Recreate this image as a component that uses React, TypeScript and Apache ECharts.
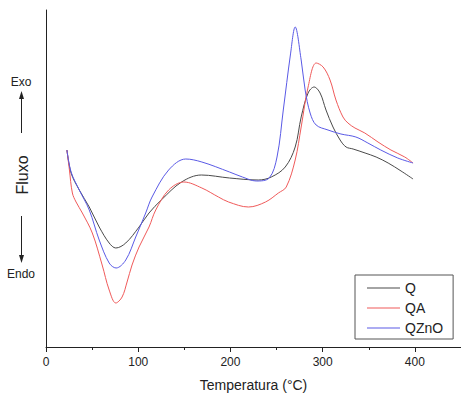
import React, { useEffect, useRef } from "react";
import * as echarts from "echarts";

const seriesNames = ["Q", "QA", "QZnO"];

const qX = [22.7, 27.2, 36.1, 46.9, 57.7, 68.5, 75.7, 86.5, 100.9, 111.7, 125, 147, 168.5, 199, 230.2, 244.3, 259.4, 270.2, 276.7, 284.2, 290.7, 297.2, 303.6, 311.2, 318.9, 325.4, 333, 346, 358, 371, 385, 398];
const qY = [197, 174, 157, 140, 120, 104, 99, 104, 120, 134, 147, 165, 172, 169, 167, 170, 180, 200, 230, 254, 260, 254, 237, 220, 207, 200, 198, 194, 190, 184, 176, 168];

const qaX = [22.7, 25.4, 28.6, 32.6, 39.4, 50.2, 60.9, 68.5, 75.7, 82.5, 87.9, 93.3, 100.9, 111.7, 119, 133, 149.5, 169, 187, 198, 219.5, 238, 252, 260.5, 270.2, 276.7, 284.2, 293, 300.5, 308, 314.4, 322, 327.4, 335, 345.7, 360, 374, 389, 398];
const qaY = [197, 177, 154, 145, 134, 114, 82, 57, 44, 50, 65, 82, 100, 120, 137, 157, 165, 159, 150, 145, 140, 145, 154, 160, 187, 220, 260, 284, 280, 267, 247, 230, 224, 219, 214, 205, 197, 190, 184];

const qznoX = [22.7, 27.2, 36.1, 46.9, 57.7, 68.5, 76, 86.5, 97.3, 108.1, 115, 133, 151.6, 169, 199, 213, 228, 242, 250.5, 257.3, 265, 270.2, 276.7, 281, 286.4, 292.9, 305.8, 319.8, 336, 349, 363, 381.4, 398];
const qznoY = [197, 175, 157, 137, 107, 84, 79, 87, 110, 134, 150, 177, 188, 185, 175, 170, 166, 169, 190, 237, 292, 320, 287, 257, 234, 222, 217, 213, 210, 204, 197, 189, 184];

const xTicks = { min: 0, max: 450, interval: 100 };
const colors = ["#4a4a4a", "#f05a5a", "#5a5ae6"];

const zip = (xs: number[], ys: number[]) => xs.map((x, i) => [x, ys[i]]);

export default function App() {
  const ref = useRef<HTMLDivElement>(null);
  useEffect(() => {
    if (!ref.current) return;
    const chart = echarts.init(ref.current, null, { renderer: "svg" });
    const font = "Liberation Sans, Arial, sans-serif";
    const datasets = [zip(qX, qY), zip(qaX, qaY), zip(qznoX, qznoY)];
    chart.setOption({
      animation: false,
      textStyle: { fontFamily: font },
      grid: { left: 46, right: -2, top: 10, bottom: 50 },
      xAxis: {
        type: "value",
        min: xTicks.min,
        max: xTicks.max,
        interval: xTicks.interval,
        name: "Temperatura (°C)",
        nameLocation: "middle",
        nameGap: 31,
        nameTextStyle: { fontSize: 14, color: "#222", fontFamily: font },
        axisLine: { lineStyle: { color: "#222", width: 1 } },
        axisTick: { show: true, inside: false, length: 5, lineStyle: { color: "#222" } },
        minorTick: { show: true, splitNumber: 2, length: 3, lineStyle: { color: "#222" } },
        axisLabel: { fontSize: 12, color: "#222", margin: 9, showMaxLabel: false, fontFamily: font },
        splitLine: { show: false },
      },
      yAxis: {
        type: "value",
        min: 0,
        max: 337,
        axisLine: { show: true, lineStyle: { color: "#222", width: 1 } },
        axisTick: { show: false },
        axisLabel: { show: false },
        splitLine: { show: false },
      },
      legend: {
        orient: "vertical",
        left: 355,
        top: 275,
        data: seriesNames,
        icon: "rect",
        itemWidth: 33,
        itemHeight: 1,
        itemGap: 6,
        padding: [6, 10, 4, 12],
        borderColor: "#555",
        borderWidth: 1,
        textStyle: { fontSize: 14, color: "#222", fontFamily: font, lineHeight: 14 },
      },
      series: seriesNames.map((n, i) => ({
        name: n,
        type: "line",
        data: datasets[i],
        smooth: 0.35,
        symbol: "none",
        lineStyle: { color: colors[i], width: 1 },
        itemStyle: { color: colors[i] },
      })),
      graphic: [
        { type: "text", x: 21, y: 82, style: { text: "Exo", font: `12px ${font}`, fill: "#222", align: "center", verticalAlign: "middle" } },
        { type: "line", shape: { x1: 21.5, y1: 133, x2: 21.5, y2: 98 }, style: { stroke: "#222", lineWidth: 1 } },
        { type: "polygon", shape: { points: [[21.5, 91], [19, 99], [24, 99]] }, style: { fill: "#222" } },
        { type: "text", x: 22, y: 175, rotation: Math.PI / 2, style: { text: "Fluxo", font: `16px ${font}`, fill: "#222", align: "center", verticalAlign: "middle" } },
        { type: "line", shape: { x1: 21.5, y1: 216, x2: 21.5, y2: 256 }, style: { stroke: "#222", lineWidth: 1 } },
        { type: "polygon", shape: { points: [[21.5, 263], [19, 255], [24, 255]] }, style: { fill: "#222" } },
        { type: "text", x: 21, y: 274, style: { text: "Endo", font: `12px ${font}`, fill: "#222", align: "center", verticalAlign: "middle" } },
      ],
    });
    return () => chart.dispose();
  }, []);
  return <div ref={ref} style={{ width: 461, height: 397, position: "absolute", left: 0, top: 0 }} />;
}
